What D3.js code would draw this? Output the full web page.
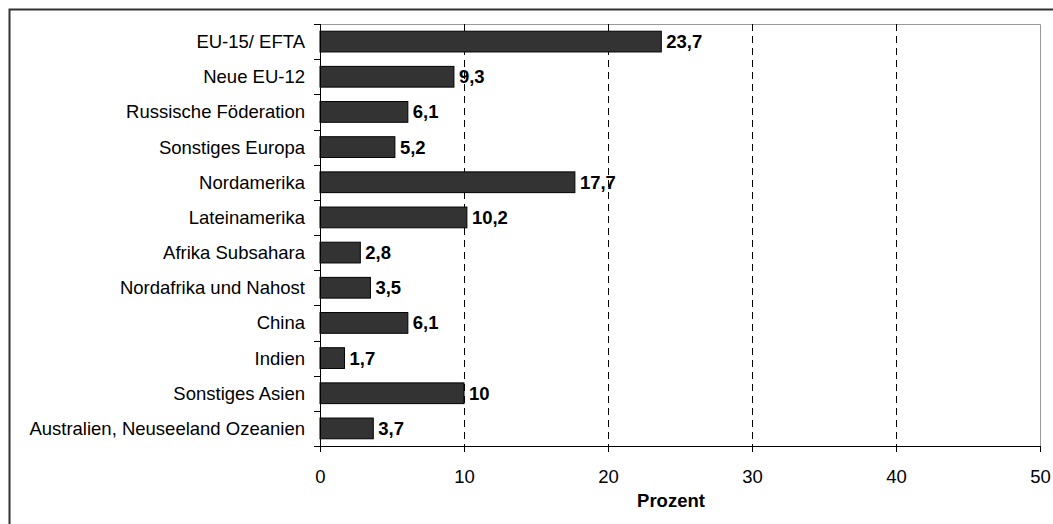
<!DOCTYPE html>
<html>
<head>
<meta charset="utf-8">
<script src="https://cdn.jsdelivr.net/npm/d3@7"></script>
<style>
  html, body { margin: 0; padding: 0; background: #fff; }
  svg { display: block; }
  text { font-family: "Liberation Sans", Arial, sans-serif; }
</style>
</head>
<body>
<svg id="chart" width="1053" height="524"></svg>
<script>
const categories = [
  "EU-15/ EFTA",
  "Neue EU-12",
  "Russische Föderation",
  "Sonstiges Europa",
  "Nordamerika",
  "Lateinamerika",
  "Afrika Subsahara",
  "Nordafrika und Nahost",
  "China",
  "Indien",
  "Sonstiges Asien",
  "Australien, Neuseeland Ozeanien"
];
const values = [23.7, 9.3, 6.1, 5.2, 17.7, 10.2, 2.8, 3.5, 6.1, 1.7, 10, 3.7];
const valueLabels = ["23,7", "9,3", "6,1", "5,2", "17,7", "10,2", "2,8", "3,5", "6,1", "1,7", "10", "3,7"];
const xTicks = [0, 10, 20, 30, 40, 50];
const gridTicks = [10, 20, 30, 40];
const xAxisTitle = "Prozent";

const svg = d3.select("#chart");
const W = 1053, H = 524;
const m = { left: 320, top: 24, right: 13, bottom: 78 };
const pw = W - m.left - m.right;
const ph = H - m.top - m.bottom;
const FS = 18.5;

// outer frame (top and left visible)
svg.append("path")
  .attr("d", `M9.5,${H + 5} V9.5 H${W + 5}`)
  .attr("fill", "none").attr("stroke", "#333").attr("stroke-width", 2);

const g = svg.append("g").attr("transform", `translate(${m.left},${m.top})`);

const x = d3.scaleLinear().domain([0, 50]).range([0, pw]);
const y = d3.scaleBand().domain(categories).range([0, ph]).paddingInner(0.41).paddingOuter(0.205);

// plot area border (top & right, gray)
g.append("path")
  .attr("d", `M0,0.5 H${pw + 0.5} V${ph}`)
  .attr("fill", "none").attr("stroke", "#999").attr("stroke-width", 1);

// dashed gridlines
g.selectAll(".grid").data(gridTicks).enter().append("line")
  .attr("x1", d => Math.round(x(d)) + 0.5).attr("x2", d => Math.round(x(d)) + 0.5)
  .attr("y1", 0).attr("y2", ph)
  .attr("stroke", "#000").attr("stroke-width", 1)
  .attr("stroke-dasharray", "7,5");

// bars
g.selectAll(".bar").data(values).enter().append("rect")
  .attr("x", x(0))
  .attr("y", (d, i) => y(categories[i]))
  .attr("width", d => x(d) - x(0))
  .attr("height", y.bandwidth())
  .attr("fill", "#333")
  .attr("stroke", "#000").attr("stroke-width", 1);

// value labels
g.selectAll(".vl").data(values).enter().append("text")
  .attr("x", d => x(d) + 5)
  .attr("y", (d, i) => y(categories[i]) + y.bandwidth() / 2)
  .attr("dy", "0.35em")
  .attr("font-size", FS).attr("font-weight", "bold").attr("fill", "#000")
  .text((d, i) => valueLabels[i]);

// y axis
const step = y.step();
const yAxisG = g.append("g");
yAxisG.append("line")
  .attr("x1", 0.5).attr("x2", 0.5).attr("y1", 0).attr("y2", ph + 6)
  .attr("stroke", "#000").attr("stroke-width", 1);
const boundaries = d3.range(categories.length + 1);
yAxisG.selectAll(".yt").data(boundaries).enter().append("line")
  .attr("x1", -6).attr("x2", 0)
  .attr("y1", d => Math.round(d * step) + 0.5)
  .attr("y2", d => Math.round(d * step) + 0.5)
  .attr("stroke", "#000").attr("stroke-width", 1);
yAxisG.selectAll(".yl").data(categories).enter().append("text")
  .attr("x", -15)
  .attr("y", d => y(d) + y.bandwidth() / 2)
  .attr("dy", "0.35em")
  .attr("text-anchor", "end")
  .attr("font-size", FS).attr("fill", "#000")
  .text(d => d);

// x axis
const xAxis = d3.axisBottom(x).tickValues(xTicks).tickSize(6).tickPadding(18).tickFormat(d3.format("d"));
const xg = g.append("g").attr("transform", `translate(0,${ph})`).call(xAxis);
xg.select(".domain").attr("d", `M-6,0.5 H${pw + 0.5}`).attr("stroke", "#000");
xg.selectAll(".tick line").attr("stroke", "#000");
xg.selectAll(".tick text")
  .attr("font-size", FS).attr("font-family", "Liberation Sans, Arial, sans-serif").attr("fill", "#000");

// axis title
g.append("text")
  .attr("x", 351).attr("y", ph + 61)
  .attr("text-anchor", "middle")
  .attr("font-size", FS).attr("font-weight", "bold").attr("fill", "#000")
  .text(xAxisTitle);
</script>
</body>
</html>
